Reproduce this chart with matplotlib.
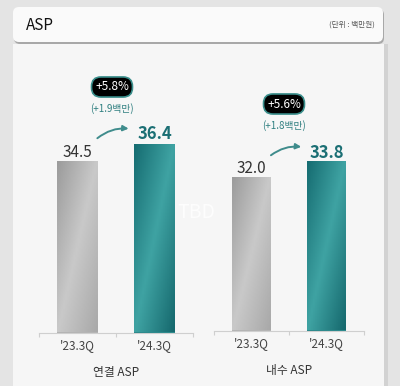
import matplotlib
matplotlib.use("Agg")
import matplotlib.pyplot as plt
import numpy as np
from matplotlib.colors import LinearSegmentedColormap
from matplotlib.patches import FancyBboxPatch, Rectangle

plt.rcParams['font.family'] = ['Noto Sans CJK KR', 'DejaVu Sans']

# 데이터
periods = ["'23.3Q", "'24.3Q"]
groups = ["연결 ASP", "내수 ASP"]
values_total = [34.5, 36.4]
values_domestic = [32.0, 33.8]
growth_pct = ["+5.8%", "+5.6%"]
growth_abs = ["(+1.9백만)", "(+1.8백만)"]
title = "ASP"
unit = "(단위 : 백만원)"

W, H = 400, 386
GRAY = "#b3b3b3"
TEAL = "#25868a"
TEAL_TXT = "#1b6f74"

# 막대 그라데이션 (대각선)
cmap_gray = LinearSegmentedColormap.from_list(
    "g", ["#9c9c9c", "#c9c9c9", "#a9a9a9"])
cmap_teal = LinearSegmentedColormap.from_list(
    "t", ["#166d72", "#3fa3a3", "#16696e"])


def px(x0, y0, x1, y1):
    # 픽셀 좌표(위에서부터) -> figure 비율
    return [x0 / W, 1 - y1 / H, (x1 - x0) / W, (y1 - y0) / H]


fig = plt.figure(figsize=(4.0, 3.86), dpi=100)
fig.patch.set_facecolor("#e4e4e4")

# 카드 배경
fig.patches.append(Rectangle((13 / W, 0), (384 - 13) / W, 1 - 44 / H,
                             transform=fig.transFigure, facecolor="#f6f6f6",
                             edgecolor="none", zorder=0))
fig.patches.append(Rectangle((384 / W, 0), 4 / W, 1 - 44 / H,
                             transform=fig.transFigure, facecolor="#d2d2d2",
                             edgecolor="none", zorder=0))

# 헤더 박스 (그림자 + 본체)
fig.patches.append(FancyBboxPatch((14 / W, 1 - 44 / H), (370) / W, 35 / H,
                                  boxstyle="round,pad=0,rounding_size=0.015",
                                  transform=fig.transFigure, facecolor="#a8a8a8",
                                  edgecolor="none", zorder=1))
fig.patches.append(FancyBboxPatch((13 / W, 1 - 42 / H), (370) / W, 35 / H,
                                  boxstyle="round,pad=0,rounding_size=0.015",
                                  transform=fig.transFigure, facecolor="#fafafa",
                                  edgecolor="none", zorder=2))
fig.text(26 / W, 1 - 25 / H, title, fontsize=11, color="#111111",
         ha="left", va="center", zorder=3)
fig.text(375 / W, 1 - 25 / H, unit, fontsize=5.5, color="#555555",
         ha="right", va="center", zorder=3)

# 워터마크
fig.text(196 / W, 1 - 213 / H, "TBD", fontsize=14, color="#fdfdfd",
         ha="center", va="center", zorder=1)

panels = [
    # 값, 축 픽셀 범위(x0, x1, 기준선), y 최소, px/단위
    (values_total, 39, 193, 332.5, 16.1, 9.3),
    (values_domestic, 214, 364, 330.5, 14.8, 8.9),
]
badge_pos = [(112, 87), (284, 104)]

grad = np.add.outer(np.linspace(0, 1, 60), np.linspace(0, 1, 20)) / 2

for i, (vals, x0, x1, base, vmin, k) in enumerate(panels):
    top = 60
    ax = fig.add_axes(px(x0, top, x1, base))
    ax.set_zorder(5)
    ax.set_xlim(-0.5, 1.5)
    ax.set_ylim(vmin, vmin + (base - top) / k)
    ax.patch.set_alpha(0)
    for s in ["top", "right", "left"]:
        ax.spines[s].set_visible(False)
    ax.spines["bottom"].set_color("#cfcfcf")
    ax.spines["bottom"].set_linewidth(0.8)
    ax.set_yticks([])
    ax.set_xticks([-0.5, 0.5, 1.5])
    ax.set_xticklabels([])
    ax.tick_params(axis="x", length=3, color="#cfcfcf", width=0.8)
    ax.set_xticks([0, 1], minor=True)
    ax.set_xticklabels(periods, minor=True, fontsize=8.5, color="#444444")
    ax.tick_params(axis="x", which="minor", length=0, pad=5)
    ax.set_xlabel(groups[i], fontsize=8.5, color="#333333", labelpad=10)

    bars = ax.bar([0, 1], vals, width=0.52, color=[GRAY, TEAL], bottom=0,
                  zorder=2)
    for b, cm in zip(bars, [cmap_gray, cmap_teal]):
        bx0, bw, bh = b.get_x(), b.get_width(), b.get_height()
        im = ax.imshow(grad, cmap=cm, origin="upper", aspect="auto",
                       extent=(bx0, bx0 + bw, vmin, bh), zorder=3)
        im.set_clip_path(b)
    ax.set_xlim(-0.5, 1.5)
    ax.set_ylim(vmin, vmin + (base - top) / k)

    ax.text(0, vals[0] + 1.0, f"{vals[0]:.1f}", ha="center", va="center",
            fontsize=11, color="#333333")
    ax.text(1, vals[1] + 1.0, f"{vals[1]:.1f}", ha="center", va="center",
            fontsize=12, color=TEAL_TXT, fontweight="bold")

    # 곡선 화살표
    ax.annotate("", xy=(0.7, vals[1] + 1.6), xytext=(0.23, vals[0] + 2.3),
                arrowprops=dict(arrowstyle="-|>", color="#3f8c8c", lw=1.4,
                                connectionstyle="arc3,rad=-0.22",
                                mutation_scale=8))

    bx, by = badge_pos[i]
    fig.text(bx / W, 1 - by / H, growth_pct[i], fontsize=8.5, color="white",
             ha="center", va="center",
             bbox=dict(boxstyle="round,pad=0.3,rounding_size=0.8",
                       facecolor="black", edgecolor="#3a8f8c", linewidth=1.2))
    fig.text(bx / W, 1 - (by + 22) / H, growth_abs[i], fontsize=7,
             color="#2f7f80", ha="center", va="center")

fig.savefig("out.png", dpi=100, facecolor=fig.get_facecolor())
